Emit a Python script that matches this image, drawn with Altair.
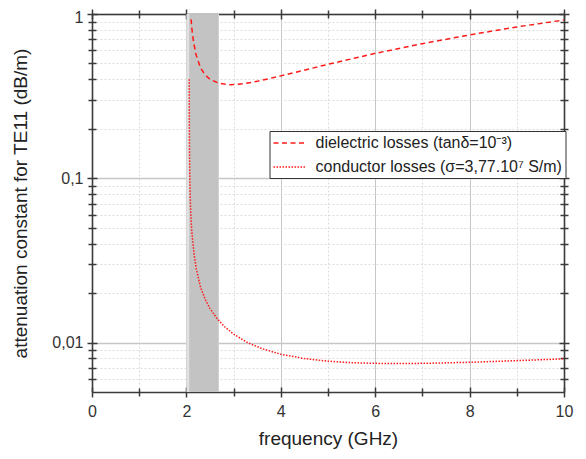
import altair as alt
import pandas as pd

# ---- data ----
freq_dielectric = [2.10, 2.11, 2.15, 2.2, 2.3, 2.4, 2.5, 2.7, 2.9, 3.2, 3.5, 4.0, 5.0, 6.0, 7.0, 8.0, 9.0, 10.0]
alpha_dielectric = [0.93, 0.84, 0.68, 0.57, 0.47, 0.425, 0.40, 0.378, 0.371, 0.376, 0.389, 0.42, 0.494, 0.576, 0.66, 0.746, 0.834, 0.92]

freq_conductor = [2.06, 2.062, 2.065, 2.07, 2.08, 2.09, 2.11, 2.16, 2.21, 2.3, 2.4, 2.5, 2.65, 2.8, 3.0, 3.3,
                  3.6, 4.0, 4.5, 5.0, 5.5, 6.0, 6.5, 7.0, 8.0, 9.0, 10.0]
alpha_conductor = [0.40, 0.22, 0.15, 0.11, 0.078, 0.064, 0.049, 0.035, 0.028, 0.0217, 0.0183, 0.0161, 0.0140,
                   0.01255, 0.01125, 0.00998, 0.00918, 0.00849, 0.00799, 0.0077, 0.00754, 0.00747, 0.00745,
                   0.00747, 0.00758, 0.00776, 0.00796]

series_names = ["dielectric losses (tanδ=10⁻³)", "conductor losses (σ=3,77.10⁷ S/m)"]

band_light = [2.0, 2.69]
band_dark = [2.06, 2.68]

x_ticks = [0, 1, 2, 3, 4, 5, 6, 7, 8, 9, 10]
y_ticks = [0.006, 0.007, 0.008, 0.009, 0.01, 0.02, 0.03, 0.04, 0.05, 0.06, 0.07, 0.08, 0.09,
           0.1, 0.2, 0.3, 0.4, 0.5, 0.6, 0.7, 0.8, 0.9, 1]

x_domain = [0, 10]
y_domain = [0.005, 1]

# ---- tables ----
df = pd.concat([
    pd.DataFrame({"freq": freq_dielectric, "alpha": alpha_dielectric, "series": series_names[0]}),
    pd.DataFrame({"freq": freq_conductor, "alpha": alpha_conductor, "series": series_names[1]}),
], ignore_index=True)

bands = pd.DataFrame({
    "x1": [band_light[0], band_dark[0]],
    "x2": [band_light[1], band_dark[1]],
    "kind": ["light", "dark"],
})

W, H = 472, 378
FONT = "Liberation Sans"

xscale = alt.Scale(domain=x_domain, nice=False, zero=False)
yscale = alt.Scale(type="log", domain=y_domain, nice=False)

x_major = "datum.value % 2 == 0"
y_major = "datum.value == 1 || datum.value == 0.1 || datum.value == 0.01"

x_ticksize = {"condition": {"test": x_major, "value": 5}, "value": 4}
y_ticksize = {"condition": {"test": y_major, "value": 5}, "value": 4}


def x_axis(orient, labels=False, grid=False, title=None, offset=0, domain=True):
    kw = dict(orient=orient, values=x_ticks, tickSize=x_ticksize, labels=labels, grid=grid,
              domain=domain, offset=offset, labelFlush=False, labelOverlap=False)
    if labels:
        kw.update(labelExpr=f"{x_major} ? datum.label : ''", labelPadding=6)
    if grid:
        kw.update(gridColor={"condition": {"test": x_major, "value": "#c6c6c6"}, "value": "#dcdcdc"},
                  gridDash={"condition": {"test": x_major, "value": []}, "value": [2, 2]},
                  gridWidth=1)
    if title:
        kw.update(title=title, titleY=37)
    else:
        kw.update(title=None)
    return alt.Axis(**kw)


def y_axis(orient, labels=False, grid=False, title=None, offset=0, domain=True):
    kw = dict(orient=orient, values=y_ticks, tickSize=y_ticksize, labels=labels, grid=grid,
              domain=domain, offset=offset, labelOverlap=False, labelFlush=False)
    if labels:
        kw.update(labelExpr="datum.value == 1 ? '1' : datum.value == 0.1 ? '0,1' : datum.value == 0.01 ? '0,01' : ''",
                  labelPadding=4,
                  labelOffset={"condition": {"test": "datum.value == 1", "value": 3}, "value": 0})
    if grid:
        kw.update(gridColor={"condition": {"test": y_major, "value": "#c6c6c6"}, "value": "#dcdcdc"},
                  gridDash={"condition": {"test": y_major, "value": []}, "value": [2, 2]},
                  gridWidth={"condition": {"test": y_major, "value": 1.3}, "value": 1})
    if title:
        kw.update(title=title, titleX=-62)
    else:
        kw.update(title=None)
    return alt.Axis(**kw)


band_layer = alt.Chart(bands).mark_rect(opacity=1).encode(
    x=alt.X("x1:Q", scale=xscale, axis=None),
    x2="x2:Q",
    color=alt.Color("kind:N", scale=alt.Scale(domain=["light", "dark"], range=["#e0e0e0", "#c3c3c3"]), legend=None),
)

lines = alt.Chart(df).mark_line(color="#ff1a1a", strokeWidth=1.5).encode(
    x=alt.X("freq:Q", scale=xscale, axis=x_axis("bottom", labels=True, grid=True, title="frequency (GHz)")),
    y=alt.Y("alpha:Q", scale=yscale,
            axis=y_axis("left", labels=True, grid=True, title="attenuation constant for TE11 (dB/m)")),
    strokeDash=alt.StrokeDash(
        "series:N",
        scale=alt.Scale(domain=series_names, range=[[5, 3.5], [1.5, 1.5]]),
        sort=series_names,
        legend=alt.Legend(
            title=None, orient="none", legendX=177.5, legendY=117,
            symbolType="M-1,0H3", symbolSize=256, symbolStrokeWidth=1.5, symbolStrokeColor="#ff1a1a",
            labelFont=FONT, labelFontSize=16, labelColor="#222", labelOffset=25, labelLimit=400,
            padding=3, rowPadding=7, strokeColor="#333", fillColor="white", cornerRadius=0,
        ),
    ),
)


def axes_only(xa, ya):
    return alt.Chart(df).mark_point(opacity=0).encode(
        x=alt.X("freq:Q", scale=xscale, axis=xa),
        y=alt.Y("alpha:Q", scale=yscale, axis=ya),
    )


mirror = axes_only(x_axis("top"), y_axis("right"))
inward_a = axes_only(x_axis("top", offset=-H, domain=False), y_axis("right", offset=-W, domain=False))
inward_b = axes_only(x_axis("bottom", offset=-H, domain=False), y_axis("left", offset=-W, domain=False))

chart = alt.layer(band_layer, lines, mirror, inward_a, inward_b).resolve_axis(
    x="independent", y="independent"
).properties(
    width=W, height=H,
    padding={"left": 84, "top": 6, "right": 14, "bottom": 60},
    autosize=alt.AutoSizeParams(type="none"),
).configure_view(stroke=None).configure_axis(
    labelFont=FONT, titleFont=FONT, labelFontSize=16, titleFontSize=19,
    titleFontWeight="normal", labelColor="#333", titleColor="#222",
    domainColor="#3a3a3a", tickColor="#3a3a3a", domainWidth=1.6, tickWidth=1.5,
)

chart.save("out.html", embed_options={"renderer": "svg", "actions": False})
